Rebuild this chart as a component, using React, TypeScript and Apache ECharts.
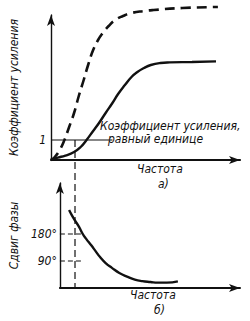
import React, { useEffect, useRef } from "react";
import * as echarts from "echarts";

// Frequency axis: 0..100 (arbitrary units)
const gainHighX = [0, 2, 4.6, 7.1, 9.6, 12.2, 14.7, 17.3, 19.8, 22.3, 24.9, 27.4, 30.5, 34, 38.1, 42.6, 49.2, 54.3, 69.5, 88.3];
const gainHighY = [0, 0.15, 0.5, 1.0, 1.65, 2.35, 3.2, 4.0, 4.8, 5.5, 6.0, 6.35, 6.7, 7.0, 7.2, 7.35, 7.45, 7.5, 7.6, 7.65];
const gainLowX = [0, 3.6, 7.6, 12.2, 15.7, 18.8, 22.3, 25.4, 28.9, 32.5, 35.5, 39.1, 42.6, 45.7, 49.2, 52.8, 57.9, 62.9, 74.6, 87.3];
const gainLowY = [0.02, 0.12, 0.22, 0.4, 0.65, 1.0, 1.45, 1.85, 2.35, 2.85, 3.3, 3.75, 4.15, 4.4, 4.6, 4.75, 4.85, 4.88, 4.9, 4.93];
const phaseX = [5.1, 6.6, 8.6, 10.7, 12.7, 14.7, 17.3, 19.8, 22.3, 25.4, 28.9, 33.0, 37.6, 41.6, 45.7, 50.3, 54.3, 59.4, 65.5];
const phaseY = [260, 243, 223, 203, 180, 163, 143, 123, 103, 83, 67, 50, 37, 28, 23, 20, 18, 18, 22];
const unityGain = 1;
const unityEndX = 32.5;
const markerX = 12.7;
const phaseTicks = [90, 180];
const gainTicks = [1];

const FONT = "DejaVu Sans Condensed";
const zip = (xs: number[], ys: number[]) => xs.map((x, i) => [x, ys[i]]);

export default function App() {
  const ref = useRef<HTMLDivElement>(null);
  useEffect(() => {
    const chart = echarts.init(ref.current!, null, { renderer: "svg" });
    const txt = { fontFamily: FONT, fontStyle: "italic", fontSize: 12, color: "#111" };
    const font = `italic 12px '${FONT}'`;
    const axisLine = (w: number) => ({
      show: true,
      symbol: ["none", "arrow"],
      symbolSize: [6, 11],
      lineStyle: { color: "#111", width: w },
    });
    chart.setOption({
      animation: false,
      backgroundColor: "#fff",
      grid: [
        { left: 43, top: 15, right: 10, height: 145 },
        { left: 43, top: 183, right: 10, height: 105 },
      ],
      xAxis: [
        { gridIndex: 0, type: "value", min: 0, max: 100, axisLine: axisLine(2.2), axisTick: { show: false }, axisLabel: { show: false }, splitLine: { show: false } },
        { gridIndex: 1, type: "value", min: 0, max: 100, axisLine: axisLine(2), axisTick: { show: false }, axisLabel: { show: false }, splitLine: { show: false } },
      ],
      yAxis: [
        { gridIndex: 0, type: "value", min: 0, max: 7.25, interval: 1, axisLine: axisLine(1.4), axisTick: { show: false }, splitLine: { show: false },
          axisLabel: { ...txt, margin: 5, formatter: (v: number) => (gainTicks.includes(v) ? String(v) : "") },
          name: "Коэффициент усиления", nameLocation: "middle", nameGap: 31, nameTextStyle: { ...txt } },
        { gridIndex: 1, type: "value", min: 0, max: 350, interval: 90, axisLine: axisLine(1.4), axisTick: { show: false }, splitLine: { show: false },
          axisLabel: { ...txt, margin: 3, formatter: (v: number) => (phaseTicks.includes(v) ? v + "°" : "") },
          name: "Сдвиг фазы", nameLocation: "middle", nameGap: 27, nameTextStyle: { ...txt } },
      ],
      graphic: [
        { type: "text", left: 100, top: 120, style: { text: "Коэффициент усиления,", font, fill: "#111" } },
        { type: "text", left: 108, top: 133, style: { text: "равный единице", font, fill: "#111" } },
        { type: "text", left: 137, top: 163, style: { text: "Частота", font, fill: "#111" } },
        { type: "text", left: 158, top: 178, style: { text: "а)", font, fill: "#111" } },
        { type: "text", left: 130, top: 289, style: { text: "Частота", font, fill: "#111" } },
        { type: "text", left: 154, top: 304, style: { text: "б)", font, fill: "#111" } },
      ],
      series: [
        { type: "line", xAxisIndex: 0, yAxisIndex: 0, data: zip(gainHighX, gainHighY), smooth: true, showSymbol: false, clip: false,
          lineStyle: { color: "#111", width: 2.6, type: [10, 6] } },
        { type: "line", xAxisIndex: 0, yAxisIndex: 0, data: zip(gainLowX, gainLowY), smooth: true, showSymbol: false, clip: false,
          lineStyle: { color: "#111", width: 2.4 } },
        { type: "line", xAxisIndex: 0, yAxisIndex: 0, data: [[0, unityGain], [unityEndX, unityGain]], showSymbol: false,
          lineStyle: { color: "#111", width: 1.1 } },
        { type: "line", xAxisIndex: 0, yAxisIndex: 0, data: [[markerX, unityGain], [markerX, -6.4]], showSymbol: false, clip: false,
          lineStyle: { color: "#111", width: 1.2, type: [7, 4] } },
        { type: "line", xAxisIndex: 1, yAxisIndex: 1, data: zip(phaseX, phaseY), smooth: true, showSymbol: false,
          lineStyle: { color: "#111", width: 2.4 } },
        { type: "line", xAxisIndex: 1, yAxisIndex: 1, data: [[0, 180], [markerX, 180]], showSymbol: false,
          lineStyle: { color: "#111", width: 1.1, type: [5, 3] } },
        { type: "line", xAxisIndex: 1, yAxisIndex: 1, data: [[0, 90], [markerX, 90]], showSymbol: false,
          lineStyle: { color: "#111", width: 1.1, type: [5, 3] } },
      ],
    });
    return () => chart.dispose();
  }, []);
  return <div ref={ref} style={{ position: "fixed", left: 0, top: 0, width: 250, height: 321 }} />;
}
